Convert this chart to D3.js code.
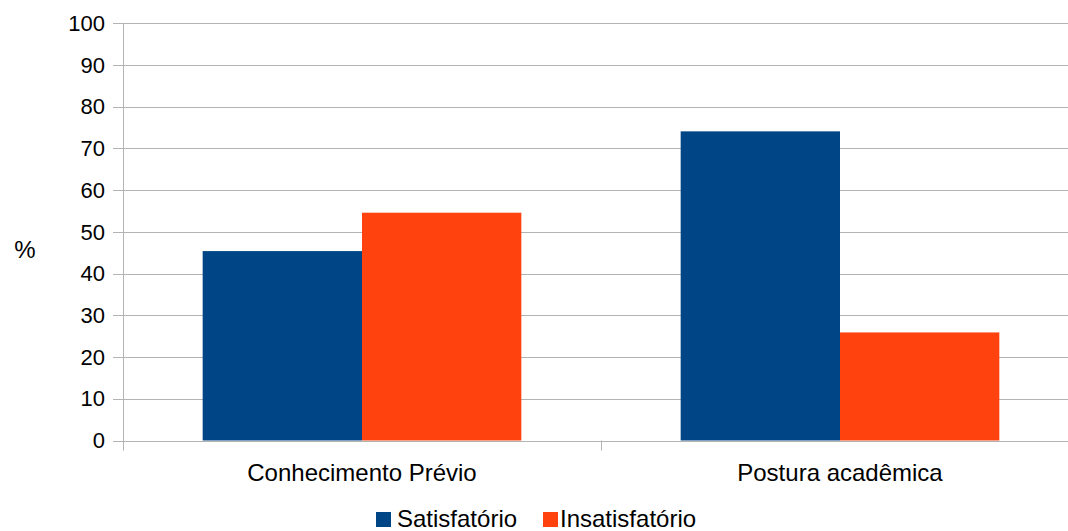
<!DOCTYPE html>
<html>
<head>
<meta charset="utf-8">
<script src="https://cdn.jsdelivr.net/npm/d3@7"></script>
<style>
  html, body { margin: 0; padding: 0; background: #fff; }
  svg { display: block; font-family: "Liberation Sans", Arial, sans-serif; }
</style>
</head>
<body>
<svg id="chart" width="1068" height="531"></svg>
<script>
// Chart data
const categories = ["Conhecimento Prévio", "Postura acadêmica"];
const seriesNames = ["Satisfatório", "Insatisfatório"];
const satisfatorio = [45.4, 74.1];
const insatisfatorio = [54.6, 25.9];
const yTicks = [0, 10, 20, 30, 40, 50, 60, 70, 80, 90, 100];
const colors = ["#004586", "#ff420e"];

const svg = d3.select("#chart");
const plotLeft = 123, plotRight = 1079, plotTop = 23.3, plotBottom = 440.5;

const x = d3.scaleBand().domain(categories).range([plotLeft, plotRight]).paddingInner(0).paddingOuter(0);
const xInner = d3.scaleBand().domain(seriesNames)
  .range([x.bandwidth() / 6, x.bandwidth() * 5 / 6]);
const y = d3.scaleLinear().domain([0, 100]).range([plotBottom, plotTop]);

// Horizontal gridlines
svg.append("g").selectAll("line").data(yTicks).join("line")
  .attr("x1", plotLeft - 10).attr("x2", 1068)
  .attr("y1", d => Math.round(y(d)) + 0.5).attr("y2", d => Math.round(y(d)) + 0.5)
  .attr("stroke", "#b3b3b3").attr("stroke-width", 1);

// Y tick labels
svg.append("g").selectAll("text").data(yTicks).join("text")
  .attr("x", 105).attr("y", d => y(d))
  .attr("dy", "0.35em")
  .attr("text-anchor", "end")
  .attr("font-size", 22).attr("fill", "#000")
  .text(d => d);

// Bars
const rows = categories.map((c, i) => ({ cat: c, vals: [satisfatorio[i], insatisfatorio[i]] }));
const groups = svg.append("g").selectAll("g").data(rows).join("g")
  .attr("transform", d => `translate(${x(d.cat)},0)`);
groups.selectAll("rect").data(d => d.vals.map((v, j) => ({ name: seriesNames[j], v, j })))
  .join("rect")
  .attr("x", d => xInner(d.name))
  .attr("width", xInner.bandwidth())
  .attr("y", d => y(d.v))
  .attr("height", d => y(0) - y(d.v))
  .attr("fill", d => colors[d.j]);

// Axes lines
svg.append("line")
  .attr("x1", plotLeft + 0.5).attr("x2", plotLeft + 0.5)
  .attr("y1", plotTop).attr("y2", plotBottom + 10)
  .attr("stroke", "#b3b3b3");
svg.append("line")
  .attr("x1", plotLeft - 10).attr("x2", 1068)
  .attr("y1", Math.round(plotBottom) + 0.5).attr("y2", Math.round(plotBottom) + 0.5)
  .attr("stroke", "#b3b3b3");
// Category separators
svg.append("g").selectAll("line").data(categories.slice(1)).join("line")
  .attr("x1", d => Math.round(x(d)) + 0.5).attr("x2", d => Math.round(x(d)) + 0.5)
  .attr("y1", plotBottom).attr("y2", plotBottom + 10)
  .attr("stroke", "#b3b3b3");

// Category labels
svg.append("g").selectAll("text").data(categories).join("text")
  .attr("x", d => x(d) + x.bandwidth() / 2)
  .attr("y", 481)
  .attr("text-anchor", "middle")
  .attr("font-size", 24).attr("fill", "#000")
  .text(d => d);

// Y axis title
svg.append("text")
  .attr("x", 25).attr("y", 258)
  .attr("text-anchor", "middle")
  .attr("font-size", 24).attr("fill", "#000")
  .text("%");

// Legend
const legendItems = [
  { name: seriesNames[0], box: 376, label: 397 },
  { name: seriesNames[1], box: 543, label: 560 }
];
const lg = svg.append("g").selectAll("g").data(legendItems).join("g");
lg.append("rect").attr("x", d => d.box).attr("y", 512).attr("width", 15).attr("height", 15)
  .attr("fill", (d, i) => colors[i]);
lg.append("text").attr("x", d => d.label).attr("y", 527)
  .attr("font-size", 24).attr("fill", "#000")
  .text(d => d.name);
</script>
</body>
</html>
